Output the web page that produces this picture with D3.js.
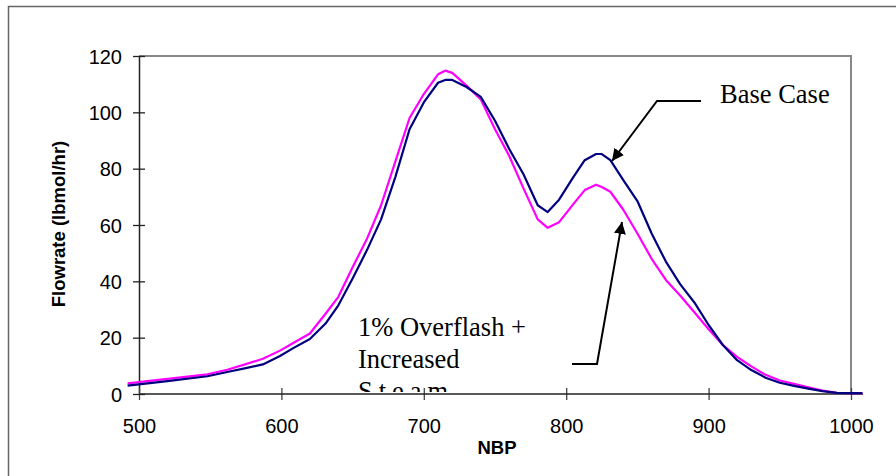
<!DOCTYPE html>
<html>
<head>
<meta charset="utf-8">
<script src="https://cdn.jsdelivr.net/npm/d3@7"></script>
<style>
  html, body { margin: 0; padding: 0; background: #fff; }
  svg { display: block; }
</style>
</head>
<body>
<svg id="chart" width="896" height="476"></svg>
<script>
// NBP (normal boiling point) grid for both runs
const nbp = [492, 520, 548, 562, 575, 587, 599, 608, 620, 631, 640, 650, 660, 670, 680, 690, 700, 710, 715, 720, 730, 740, 750, 760, 770, 780, 787, 795, 805, 813, 821, 825, 831, 840, 850, 860, 870, 880, 890, 900, 910, 920, 930, 940, 950, 960, 970, 980, 990, 1000, 1008];

// Flowrate (lbmol/hr) per NBP point
const baseCase = [3.0, 4.6, 6.3, 7.8, 9.2, 10.5, 13.5, 16.2, 19.5, 25.0, 31.5, 41, 51, 62, 77, 94, 103.5, 110.5, 111.5, 111.5, 109, 105.5, 97, 87, 78, 67, 64.6, 69, 77, 83, 85.2, 85.2, 83, 76, 68.5, 57, 47, 39, 32.5, 24.5, 17.4, 12, 8.5, 5.8, 4.0, 2.9, 1.9, 1.0, 0.4, 0.3, 0.3];
const overflash = [3.8, 5.4, 7.0, 8.6, 10.6, 12.5, 15.4, 18.0, 21.5, 28.5, 34.5, 45, 55, 67, 82.5, 98, 106.5, 113.5, 114.8, 114, 109.5, 104.6, 94, 84.5, 73, 62, 59, 61, 67.4, 72.4, 74.3, 73.5, 71.8, 65.5, 57, 48, 40.5, 35, 29, 23, 17.4, 13.2, 9.8, 6.8, 4.8, 3.6, 2.4, 1.2, 0.4, 0.3, 0.3];

const xTicks = [500, 600, 700, 800, 900, 1000];
const yTicks = [0, 20, 40, 60, 80, 100, 120];

const svg = d3.select("#chart");
const sans = "'Liberation Sans', Arial, sans-serif";
const serif = "'Liberation Serif', 'Times New Roman', serif";

// Plot frame: 500..1000 across, 0..120 up
const x = d3.scaleLinear().domain([500, 1000]).range([139, 851]);
const y = d3.scaleLinear().domain([0, 120]).range([394, 56]);

// Outer chart border (top and left edges fall inside the page)
svg.append("rect")
  .attr("x", 8.5).attr("y", 6.5)
  .attr("width", 1000).attr("height", 1000)
  .attr("fill", "none").attr("stroke", "#666").attr("stroke-width", 1.5);

// Plot area border, top and right sides
svg.append("path")
  .attr("d", `M${x(500)},${y(120)}H${x(1000)}V${y(0)}`)
  .attr("fill", "none").attr("stroke", "#888").attr("stroke-width", 2);

// Y axis with ticks crossing the line
const yAxis = svg.append("g")
  .attr("transform", `translate(${x(500)},0)`)
  .call(d3.axisLeft(y).tickValues(yTicks).tickFormat(d3.format("d")).tickSize(6).tickSizeOuter(0));
yAxis.select(".domain").attr("stroke", "#222").attr("stroke-width", 1.5);
yAxis.selectAll(".tick line").attr("x1", 6).attr("x2", -6).attr("stroke", "#222").attr("stroke-width", 1.3);
yAxis.selectAll(".tick text")
  .attr("x", -17).attr("dy", "0.36em")
  .style("font-family", sans).style("font-size", "20px").attr("fill", "#000");

// X axis line runs a little past the 1000 tick
const xAxis = svg.append("g")
  .attr("transform", `translate(0,${y(0)})`)
  .call(d3.axisBottom(x).tickValues(xTicks).tickFormat(d3.format("d")).tickSize(6).tickSizeOuter(0));
xAxis.select(".domain").remove();
xAxis.append("line")
  .attr("x1", x(500)).attr("x2", x(1008.4))
  .attr("stroke", "#222").attr("stroke-width", 1.5);
xAxis.selectAll(".tick line").attr("y1", -6).attr("y2", 6).attr("stroke", "#444").attr("stroke-width", 1.3);
xAxis.selectAll(".tick text")
  .attr("y", 39).attr("dy", 0)
  .style("font-family", sans).style("font-size", "20px").attr("fill", "#000");

// Axis titles
svg.append("text")
  .attr("transform", `translate(65,224) rotate(-90)`)
  .attr("text-anchor", "middle")
  .style("font-family", sans).style("font-size", "18.5px").style("font-weight", "bold")
  .text("Flowrate (lbmol/hr)");

svg.append("text")
  .attr("x", 497).attr("y", 454)
  .attr("text-anchor", "middle")
  .style("font-family", sans).style("font-size", "18.5px").style("font-weight", "bold")
  .text("NBP");

// Curves
const line = d3.line().x((d, i) => x(nbp[i])).y(d => y(d));
svg.append("path").datum(overflash)
  .attr("d", line).attr("fill", "none")
  .attr("stroke", "#ff00ff").attr("stroke-width", 2.2).attr("stroke-linejoin", "round");
svg.append("path").datum(baseCase)
  .attr("d", line).attr("fill", "none")
  .attr("stroke", "#000080").attr("stroke-width", 2.2).attr("stroke-linejoin", "round");

// Arrowhead marker for callouts
svg.append("defs").append("marker")
  .attr("id", "arrow").attr("viewBox", "0 0 10 10")
  .attr("refX", 10).attr("refY", 5)
  .attr("markerWidth", 6).attr("markerHeight", 6)
  .attr("markerUnits", "strokeWidth").attr("orient", "auto")
  .append("path").attr("d", "M0,0L10,5L0,10z").attr("fill", "#000");

// Base Case callout
svg.append("polyline")
  .attr("points", "701,101 657,101 612,161")
  .attr("fill", "none").attr("stroke", "#000").attr("stroke-width", 2)
  .attr("marker-end", "url(#arrow)");
svg.append("text")
  .attr("x", 720).attr("y", 103)
  .style("font-family", serif).style("font-size", "26.5px")
  .text("Base Case");

// Overflash callout; its text box is cut off at the axis
svg.append("polyline")
  .attr("points", "572,364 597,364 622,222")
  .attr("fill", "none").attr("stroke", "#000").attr("stroke-width", 2)
  .attr("marker-end", "url(#arrow)");
svg.select("defs").append("clipPath").attr("id", "boxclip")
  .append("rect").attr("x", 340).attr("y", 300).attr("width", 220).attr("height", 92);
const note = svg.append("g").attr("clip-path", "url(#boxclip)");
["1% Overflash +", "Increased", "Steam"].forEach((t, i) => {
  note.append("text")
    .attr("x", 358).attr("y", 336 + i * 32)
    .style("font-family", serif).style("font-size", "26.5px")
    .style("letter-spacing", i === 2 ? "6px" : "0px")
    .text(t);
});
</script>
</body>
</html>
